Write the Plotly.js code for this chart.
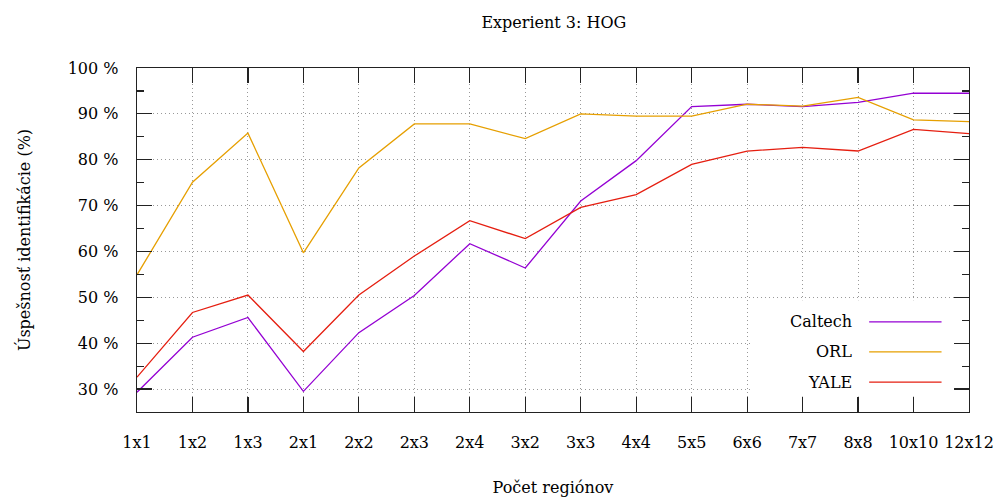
<!DOCTYPE html>
<html>
<head>
<meta charset="utf-8">
<script src="https://cdn.plot.ly/plotly-3.0.1.min.js"></script>
<style>
  html, body { margin: 0; padding: 0; background: #fff; }
  #chart { width: 998px; height: 497px; }
</style>
</head>
<body>
<div id="chart"></div>
<script>
// regions grid sizes on x axis
const regions = ['1x1', '1x2', '1x3', '2x1', '2x2', '2x3', '2x4', '3x2', '3x3',
                 '4x4', '5x5', '6x6', '7x7', '8x8', '10x10', '12x12'];

// identification success (%)
const caltech = [29.3, 41.3, 45.6, 29.5, 42.3, 50.4, 61.7, 56.4, 71.0,
                 79.8, 91.6, 92.1, 91.6, 92.5, 94.5, 94.5];
const orl = [54.9, 75.1, 85.8, 59.7, 78.2, 87.8, 87.8, 84.6, 90.0,
             89.5, 89.5, 92.1, 91.7, 93.6, 88.7, 88.3];
const yale = [32.6, 46.7, 50.5, 38.2, 50.5, 59.0, 66.7, 62.8, 69.6,
              72.4, 79.0, 81.9, 82.7, 81.9, 86.6, 85.7];

const seriesNames = ['Caltech', 'ORL', 'YALE'];
const seriesColors = ['#9400d3', '#e69f00', '#e51e10'];
const seriesValues = [caltech, orl, yale];

const FONT = 'DejaVu Serif';
const FS = 16;
const GRIDDASH = '1px,3px';

const data = seriesValues.map((vals, i) => ({
  type: 'scatter',
  mode: 'lines',
  x: regions,
  y: vals,
  name: seriesNames[i],
  line: { color: seriesColors[i], width: 1.3 },
  showlegend: false
}));
// empty trace so the right-hand axis (mirrored ticks incl. minor) gets drawn
data.push({ type: 'scatter', x: [], y: [], yaxis: 'y2', showlegend: false, hoverinfo: 'skip' });

// gnuplot style key: label on the left, line sample on the right
const keyY = [0.262, 0.175, 0.087];
const shapes = [{
  type: 'rect', xref: 'paper', yref: 'paper', layer: 'above',
  x0: 0.737, x1: 0.982, y0: 0.045, y1: 0.325,
  fillcolor: '#fff', line: { width: 0 }
}];
const annotations = [];
seriesNames.forEach((name, i) => {
  shapes.push({
    type: 'line', xref: 'paper', yref: 'paper', layer: 'above',
    x0: 0.880, x1: 0.967, y0: keyY[i], y1: keyY[i],
    line: { color: seriesColors[i], width: 1.3 }
  });
  annotations.push({
    xref: 'paper', yref: 'paper', x: 0.862, y: keyY[i],
    xanchor: 'right', yanchor: 'middle', showarrow: false,
    text: name, font: { family: FONT, size: FS, color: '#000' }
  });
});

const yTickStyle = {
  range: [25, 100],
  tickmode: 'linear', tick0: 0, dtick: 10,
  ticks: 'inside', ticklen: 15, tickcolor: '#222', tickwidth: 1.2,
  minor: { tickmode: 'linear', tick0: 0, dtick: 5, ticks: 'inside', ticklen: 7, tickcolor: '#222', tickwidth: 1.2, showgrid: false }
};

const layout = {
  width: 998,
  height: 497,
  paper_bgcolor: '#fff',
  plot_bgcolor: '#fff',
  margin: { l: 137, r: 29, t: 67.5, b: 85.3 },
  font: { family: FONT, size: FS, color: '#000' },
  title: {
    text: 'Experient 3: HOG',
    x: 0.555, xanchor: 'center', y: 0.955, yanchor: 'middle',
    font: { family: FONT, size: FS, color: '#000' }
  },
  xaxis: {
    type: 'category',
    range: [0, regions.length - 1],
    showline: true, linecolor: '#222', linewidth: 1.3, mirror: 'ticks',
    ticks: 'inside', ticklen: 15, tickcolor: '#222', tickwidth: 1.2,
    showgrid: true, gridcolor: '#999', griddash: GRIDDASH, gridwidth: 1,
    zeroline: false,
    ticklabelstandoff: 15,
    tickfont: { family: FONT, size: FS, color: '#000' },
    title: { text: 'Počet regiónov', standoff: 31, font: { family: FONT, size: FS, color: '#000' } }
  },
  yaxis: Object.assign({
    ticksuffix: ' %',
    showline: true, linecolor: '#222', linewidth: 1.3, mirror: true,
    showgrid: true, gridcolor: '#999', griddash: GRIDDASH, gridwidth: 1,
    zeroline: false,
    ticklabelstandoff: 14,
    tickfont: { family: FONT, size: FS, color: '#000' },
    title: { text: 'Úspešnosť identifikácie (%)', standoff: 33, font: { family: FONT, size: FS, color: '#000' } }
  }, yTickStyle),
  yaxis2: Object.assign({
    overlaying: 'y', side: 'right',
    showticklabels: false,
    showline: false, showgrid: false, zeroline: false
  }, yTickStyle),
  shapes: shapes,
  annotations: annotations,
  showlegend: false
};

Plotly.newPlot('chart', data, layout, { displayModeBar: false, staticPlot: true });
</script>
</body>
</html>
